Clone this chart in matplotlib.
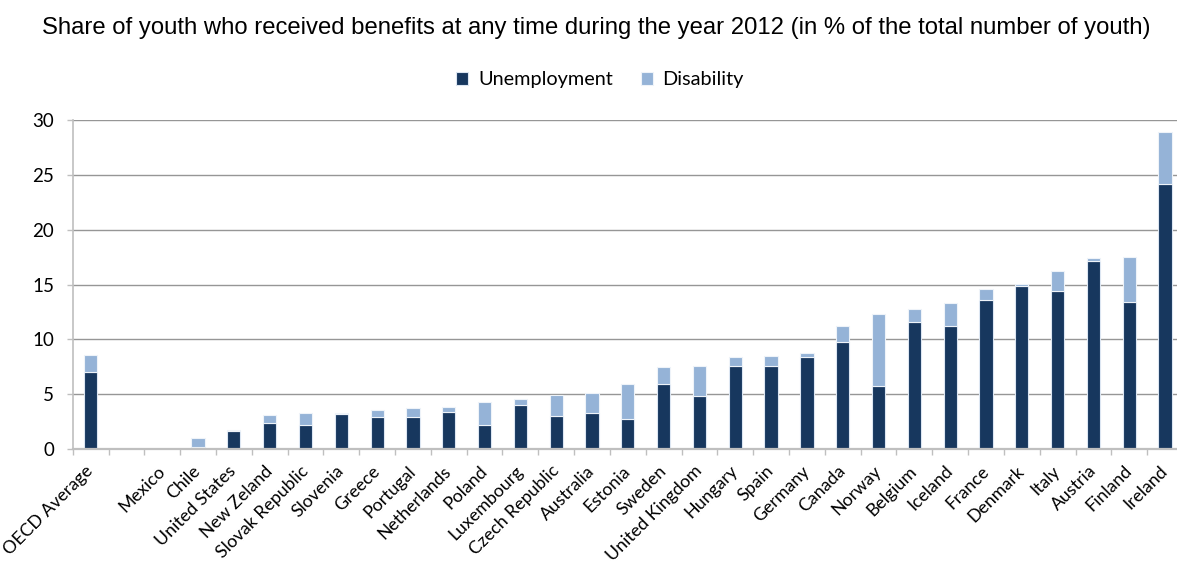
import matplotlib
matplotlib.use("Agg")
import matplotlib.pyplot as plt
import numpy as np

categories = ["OECD Average", "", "Mexico", "Chile", "United States", "New Zeland",
              "Slovak Republic", "Slovenia", "Greece", "Portugal", "Netherlands",
              "Poland", "Luxembourg", "Czech Republic", "Australia", "Estonia",
              "Sweden", "United Kingdom", "Hungary", "Spain", "Germany", "Canada",
              "Norway", "Belgium", "Iceland", "France", "Denmark", "Italy",
              "Austria", "Finland", "Ireland"]

unemployment = [7.0, 0.0, 0.0, 0.2, 1.6, 2.35, 2.15, 3.15, 2.95, 2.95, 3.4,
                2.15, 4.0, 3.0, 3.25, 2.7, 5.9, 4.85, 7.55, 7.55, 8.4, 9.8,
                5.7, 11.6, 11.2, 13.6, 14.9, 14.4, 17.1, 13.4, 24.2]

disability = [1.57, 0.0, 0.0, 0.8, 0.15, 0.75, 1.15, 0.12, 0.6, 0.75, 0.45,
              2.15, 0.6, 1.9, 1.9, 3.2, 1.6, 2.7, 0.85, 0.9, 0.38, 1.4,
              6.65, 1.15, 2.08, 1.0, 0.15, 1.8, 0.35, 4.15, 4.7]

series_names = ["Unemployment", "Disability"]
colors = ["#17375E", "#95B3D7"]
yticks = [0, 5, 10, 15, 20, 25, 30]

W, H = 1177, 563
fig = plt.figure(figsize=(W / 100, H / 100), dpi=100)
left_px, right_px, top_px, bottom_px = 72.7, 1183.0, 120.0, 449.0
ax = fig.add_axes([left_px / W, 1 - bottom_px / H,
                   (right_px - left_px) / W, (bottom_px - top_px) / H])

x = np.arange(len(categories))
width = 0.37
ax.bar(x, unemployment, width, color=colors[0], edgecolor="#dce6f2",
       linewidth=0.8, label=series_names[0], zorder=3)
ax.bar(x, disability, width, bottom=unemployment, color=colors[1],
       edgecolor="#eef3f9", linewidth=0.8, label=series_names[1], zorder=3)

ax.set_xlim(-0.5, len(categories) - 0.5)
ax.set_ylim(0, 30)
ax.set_yticks(yticks)
ax.yaxis.grid(True, color="#969696", linewidth=1.0, zorder=0)
ax.set_axisbelow(True)

for s in ["top", "right"]:
    ax.spines[s].set_visible(False)
ax.spines["left"].set_color("#bfbfbf")
ax.spines["left"].set_linewidth(1.2)
ax.spines["bottom"].set_color("#bfbfbf")
ax.spines["bottom"].set_linewidth(1.6)
ax.spines["bottom"].set_zorder(4)

label_font = "Lato"
ax.set_xticks(x)
ax.set_xticklabels(categories, rotation=45, ha="right", va="center",
                   rotation_mode="anchor", fontsize=12.8, family=label_font,
                   color="#000000")
ax.tick_params(axis="x", length=0, pad=14)
ax.set_xticks(np.arange(-0.5, len(categories), 1), minor=True)
ax.tick_params(axis="x", which="minor", length=4.3, color="#bfbfbf", width=1)
ax.tick_params(axis="y", length=4.3, color="#bfbfbf", width=1, pad=9,
               labelsize=13.5)
for t in ax.get_yticklabels():
    t.set_family(label_font)

fig.text(596 / W, 1 - 28 / H,
         "Share of youth who received benefits at any time during the year 2012 (in % of the total number of youth)",
         ha="center", va="center", fontsize=17.2, family="Liberation Sans",
         color="#000000")

fig.legend(loc="center", bbox_to_anchor=(600 / W, 1 - 80 / H), ncol=2,
           frameon=False, handlelength=0.6, handleheight=0.6,
           handletextpad=0.5, columnspacing=1.4,
           prop={"family": label_font, "size": 14.3})

fig.savefig("out.png", dpi=100)
